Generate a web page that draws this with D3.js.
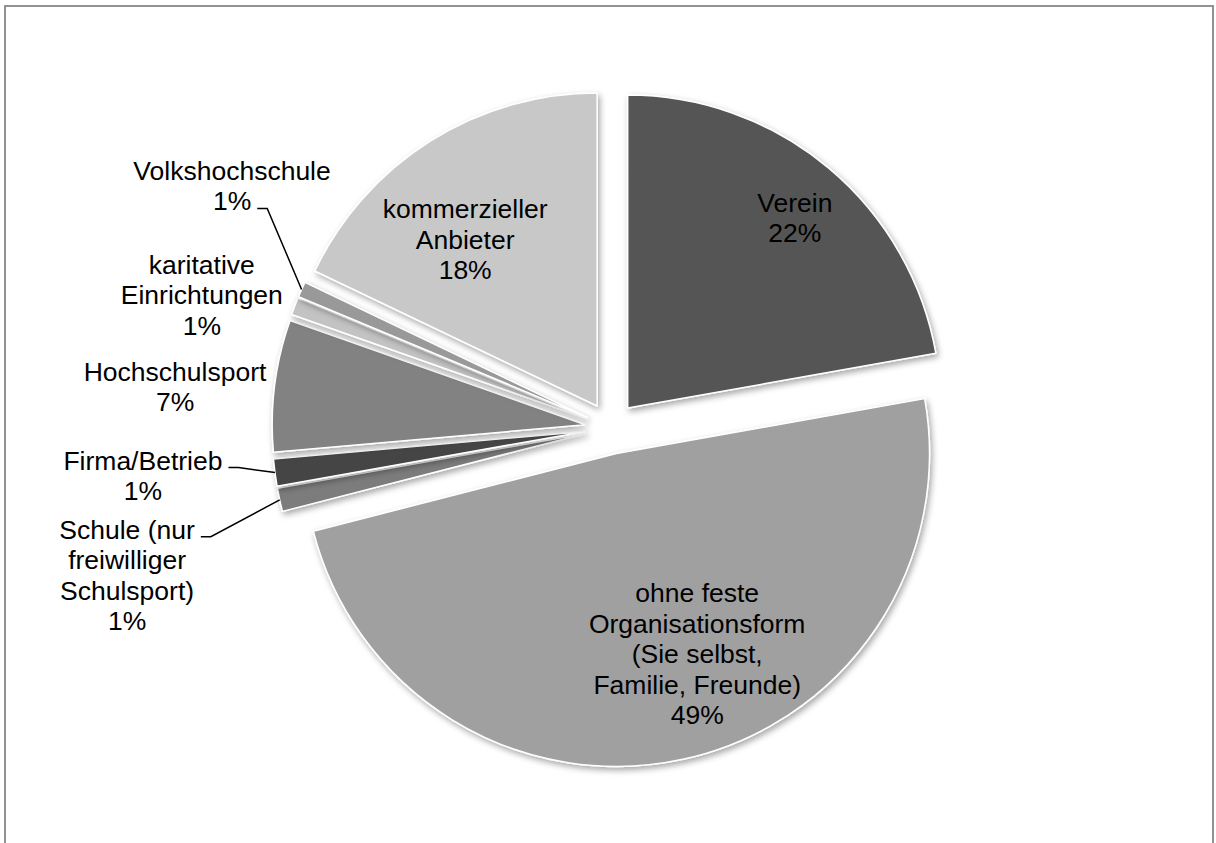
<!DOCTYPE html>
<html>
<head>
<meta charset="utf-8">
<script src="https://cdn.jsdelivr.net/npm/d3@7"></script>
<style>
  html, body { margin: 0; padding: 0; background: #fff; }
  #chart { width: 1216px; height: 843px; }
  text { font-family: "Liberation Sans", Arial, sans-serif; }
</style>
</head>
<body>
<div id="chart"></div>
<script>
// Data (percent shares; labels are rounded)
const categories = [
  'Verein',
  'ohne feste Organisationsform (Sie selbst, Familie, Freunde)',
  'Schule (nur freiwilliger Schulsport)',
  'Firma/Betrieb',
  'Hochschulsport',
  'karitative Einrichtungen',
  'Volkshochschule',
  'kommerzieller Anbieter'
];
const shares = [22.2, 48.8, 1.2, 1.4, 6.8, 0.9, 0.8, 17.9];
const labelLines = [
  ['Verein'],
  ['ohne feste', 'Organisationsform', '(Sie selbst,', 'Familie, Freunde)'],
  ['Schule (nur', 'freiwilliger', 'Schulsport)'],
  ['Firma/Betrieb'],
  ['Hochschulsport'],
  ['karitative', 'Einrichtungen'],
  ['Volkshochschule'],
  ['kommerzieller', 'Anbieter']
];

(function main(){
  const width = 1216, height = 843;
  const cx = 611, cy = 428;      // pie centre
  const radius = 313;
  const explode = 26;            // distance each slice is pulled out
  const fontSize = 26.5, lineH = 30.5;

  const fills = ['#555555', '#a0a0a0', '#7b7b7b', '#444444', '#828282', '#c3c3c3', '#999999', '#c8c8c8'];

  // label placement: angle offset (deg) from slice middle, distance as share of radius (from slice tip)
  const labelLayout = [
    { da: 1.3,  k: 0.81,  leader: false },
    { da: -9.7, k: 0.69,  leader: false },
    { da: -4.9, k: 1.533, leader: true },
    { da: 1.9,  k: 1.42,  leader: true },
    { da: -1.9, k: 1.316, leader: false },
    { da: -3.2, k: 1.292, leader: false },
    { da: 9.0,  k: 1.355, leader: true },
    { da: -6.1, k: 0.68,  leader: false }
  ];

  const rows = categories.map((c, i) => ({ name: c, value: shares[i], lines: labelLines[i], fill: fills[i], layout: labelLayout[i] }));

  const svg = d3.select('#chart').append('svg')
    .attr('width', width).attr('height', height)
    .attr('viewBox', `0 0 ${width} ${height}`);

  // chart frame
  svg.append('rect')
    .attr('x', 5).attr('y', 6)
    .attr('width', 1208).attr('height', 900)
    .attr('fill', '#fff')
    .attr('stroke', '#878787')
    .attr('stroke-width', 1.8);

  const defs = svg.append('defs');
  const f = defs.append('filter').attr('id', 'shadow')
    .attr('x', '-10%').attr('y', '-10%').attr('width', '130%').attr('height', '130%');
  f.append('feDropShadow')
    .attr('dx', 2).attr('dy', 3).attr('stdDeviation', 3)
    .attr('flood-color', '#000').attr('flood-opacity', 0.35);

  const pie = d3.pie().sort(null).value(d => d.value).startAngle(0).endAngle(2 * Math.PI);
  const arc = d3.arc().innerRadius(0).outerRadius(radius);
  const arcs = pie(rows);

  const dir = a => [Math.sin(a), -Math.cos(a)];
  arcs.forEach(a => {
    a.mid = (a.startAngle + a.endAngle) / 2;
    const [dx, dy] = dir(a.mid);
    a.tip = [cx + dx * explode, cy + dy * explode];
  });

  const plot = svg.append('g');

  plot.selectAll('path.slice')
    .data(arcs)
    .enter()
    .append('path')
    .attr('class', 'slice')
    .attr('transform', d => `translate(${d.tip[0]},${d.tip[1]})`)
    .attr('d', arc)
    .attr('fill', d => d.data.fill)
    .attr('stroke', '#fff')
    .attr('stroke-width', 1.5)
    .attr('stroke-linejoin', 'round')
    .attr('filter', 'url(#shadow)');

  // labels
  const fmt = d3.format('.0%');
  const labelG = svg.append('g');

  arcs.forEach(a => {
    const L = a.data.layout;
    const ang = a.mid + L.da * Math.PI / 180;
    const [ux, uy] = dir(ang);
    const lx = a.tip[0] + ux * radius * L.k;
    const ly = a.tip[1] + uy * radius * L.k;
    const lines = a.data.lines.concat([fmt(a.data.value / 100)]);
    const n = lines.length;

    const t = labelG.append('text')
      .attr('text-anchor', 'middle')
      .style('font-size', fontSize + 'px')
      .attr('fill', '#000');
    const spans = lines.map((s, i) => t.append('tspan')
      .attr('x', lx)
      .attr('y', ly + (i - (n - 1) / 2) * lineH + fontSize * 0.36)
      .text(s));

    if (L.leader) {
      const [ox, oy] = dir(a.mid);
      const end = [a.tip[0] + ox * radius, a.tip[1] + oy * radius];
      // attach to the line that sits closest to the slice edge
      let best = 0, bestD = Infinity;
      spans.forEach((sp, i) => {
        const by = +sp.attr('y');
        const dd = Math.abs(by - end[1]);
        if (dd < bestD) { bestD = dd; best = i; }
      });
      const sp = spans[best];
      const w = sp.node().getComputedTextLength();
      const sx = lx + w / 2 + 6;
      const sy = +sp.attr('y') - 2;
      labelG.append('path')
        .attr('d', d3.line()([[sx, sy], [sx + 10, sy], end]))
        .attr('fill', 'none')
        .attr('stroke', '#000')
        .attr('stroke-width', 1.5);
    }
  });
})();
</script>
</body>
</html>
